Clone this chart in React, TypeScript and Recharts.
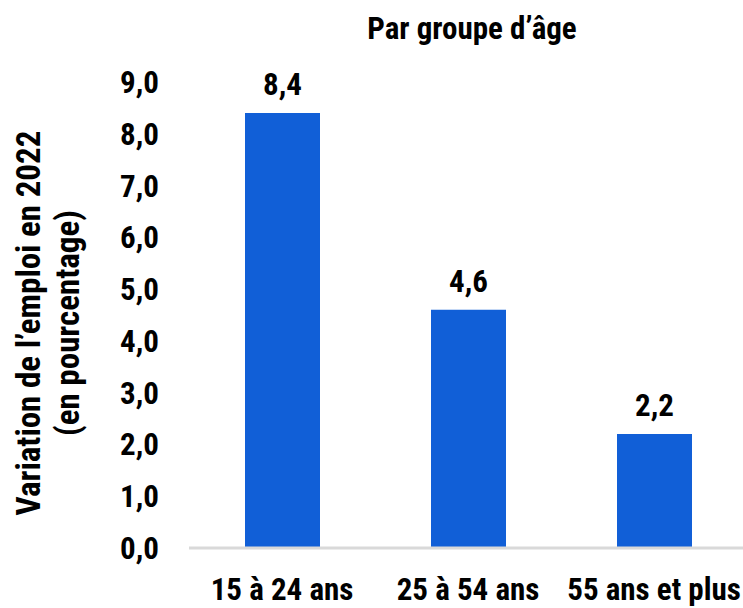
import { Bar, BarChart, LabelList, XAxis, YAxis } from "recharts";

const categories = ["15 à 24 ans", "25 à 54 ans", "55 ans et plus"];
const values = [8.4, 4.6, 2.2];
const yTicks = [0, 1, 2, 3, 4, 5, 6, 7, 8, 9];

const data = categories.map((name, i) => ({ name, value: values[i] }));

const FONT = '"Liberation Sans Narrow", "Arial Narrow", "Roboto Condensed", sans-serif';
const fmt = (v: number) => v.toFixed(1).replace(".", ",");

if (typeof document !== "undefined") document.body.style.margin = "0";

export default function App() {
  return (
    <div style={{ position: "relative", width: 743, height: 608, background: "#fff", fontFamily: FONT }}>
      <svg width={743} height={608} style={{ position: "absolute", left: 0, top: 0, pointerEvents: "none" }}>
        <text x={472} y={39} textAnchor="middle" fontFamily={FONT} fontWeight="bold" fontSize={31} fill="#000">
          Par groupe d’âge
        </text>
        <g transform="translate(0,323) rotate(-90)">
          <text x={0} y={40} textAnchor="middle" fontFamily={FONT} fontWeight="bold" fontSize={33} fill="#000">
            Variation de l’emploi en 2022
          </text>
          <text x={0} y={79} textAnchor="middle" fontFamily={FONT} fontWeight="bold" fontSize={33} fill="#000">
            (en pourcentage)
          </text>
        </g>
      </svg>
      <BarChart
        width={743}
        height={608}
        data={data}
        margin={{ top: 82, right: -4, bottom: 0, left: 0 }}
      >
        <YAxis
          width={189}
          domain={[0, 9]}
          ticks={yTicks}
          interval={0}
          axisLine={false}
          tickLine={false}
          tickSize={0}
          tickMargin={30}
          tickFormatter={fmt}
          tick={{ fill: "#000", fontSize: 31, fontWeight: "bold", fontFamily: FONT }}
        />
        <XAxis
          dataKey="name"
          height={60}
          axisLine={{ stroke: "#d9d9d9", strokeWidth: 3 }}
          tickLine={false}
          tickSize={0}
          tickMargin={30}
          interval={0}
          tick={{ fill: "#000", fontSize: 31, fontWeight: "bold", fontFamily: FONT }}
        />
        <Bar dataKey="value" fill="#115fd7" barSize={75} isAnimationActive={false}>
          <LabelList
            dataKey="value"
            position="top"
            offset={18}
            formatter={(v: any) => fmt(Number(v))}
            style={{ fill: "#000", fontSize: 31, fontWeight: "bold", fontFamily: FONT }}
          />
        </Bar>
      </BarChart>
    </div>
  );
}
